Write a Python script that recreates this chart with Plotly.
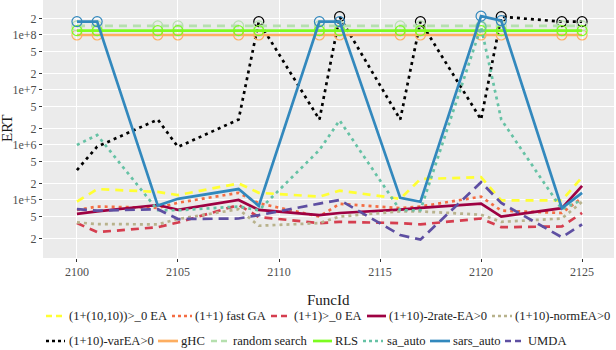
import plotly.graph_objects as go

# ERT per function id
func_ids = [2100, 2101, 2104, 2105, 2108, 2109, 2112, 2113, 2116, 2117, 2120, 2121, 2124, 2125]

ea_10_10 = [9.3e4, 1.58e5, 1.4e5, 1.23e5, 2.0e5, 1.35e5, 1.15e5, 1.48e5, 1.05e5, 2.4e5, 2.6e5, 9.8e4, 9.8e4, 2.6e5]
fast_ga = [6.6e4, 7.6e4, 7.2e4, 8.9e4, 1.35e5, 8.7e4, 5.0e4, 8.5e4, 7.1e4, 7.6e4, 1.15e5, 6.4e4, 5.8e4, 1.1e5]
ea_1_1 = [3.8e4, 2.6e4, 3.2e4, 3.9e4, 8.1e4, 4.9e4, 3.8e4, 4.0e4, 3.8e4, 3.6e4, 4.6e4, 3.2e4, 3.3e4, 5.8e4]
two_rate = [5.6e4, 6.2e4, 8.1e4, 6.6e4, 1.0e5, 6.6e4, 5.3e4, 5.8e4, 6.7e4, 7.2e4, 8.6e4, 5.0e4, 7.1e4, 1.8e5]
norm_ea = [3.9e4, 3.65e4, 3.6e4, 4.5e4, 6.8e4, 3.4e4, 3.8e4, 5.0e4, 6.2e4, 6.2e4, 5.4e4, 4.0e4, 4.6e4, 9.3e4]
var_ea = [3.5e5, 9.3e5, 2.9e6, 9.2e5, 2.9e6, 1.75e8, 2.9e6, 2.15e8, 2.9e6, 1.75e8, 2.9e6, 2.15e8, 1.75e8, 1.75e8]
ghc = [1.0e8, 1.0e8, 1.0e8, 1.0e8, 1.0e8, 1.0e8, 1.0e8, 1.0e8, 1.0e8, 1.0e8, 1.0e8, 1.0e8, 1.0e8, 1.0e8]
random_search = [1.46e8, 1.46e8, 1.46e8, 1.46e8, 1.46e8, 1.46e8, 1.46e8, 1.46e8, 1.46e8, 1.46e8, 1.46e8, 1.46e8, 1.46e8, 1.46e8]
rls = [1.2e8, 1.2e8, 1.2e8, 1.2e8, 1.2e8, 1.2e8, 1.2e8, 1.2e8, 1.2e8, 1.2e8, 1.2e8, 1.2e8, 1.2e8, 1.2e8]
sa_auto = [1.0e6, 1.52e6, 6.5e4, 6.5e4, 7.6e4, 6.5e4, 8.1e5, 2.8e6, 6.5e4, 6.5e4, 1.4e8, 2.9e6, 6.8e4, 1.0e5]
sars_auto = [1.75e8, 1.75e8, 7.9e4, 1.05e5, 1.58e5, 7.8e4, 1.75e8, 1.75e8, 1.09e5, 9.3e4, 2.2e8, 1.82e8, 7.1e4, 1.35e5]
umda = [6.8e4, 6.4e4, 6.8e4, 4.5e4, 4.6e4, 5.3e4, 8.6e4, 1.0e5, 2.3e4, 1.9e4, 2.1e5, 8.8e4, 2.1e4, 3.6e4]

x_ticks = [2100, 2105, 2110, 2115, 2120, 2125]
y_ticks = [2e8, 1e8, 5e7, 2e7, 1e7, 5e6, 2e6, 1e6, 5e5, 2e5, 1e5, 5e4, 2e4]
y_tick_labels = ["2", "1e+8", "5", "2", "1e+7", "5", "2", "1e+6", "5", "2", "1e+5", "5", "2"]

DOT = "3px,4px"
DASH = "8px,6px"
LONGDASH = "10px,6px"

series = [
    ("(1+(10,10))>_0 EA", ea_10_10, "#ffff33", DASH),
    ("(1+1) fast GA", fast_ga, "#f46d43", DOT),
    ("(1+1)>_0 EA", ea_1_1, "#d53e4f", DASH),
    ("(1+10)-2rate-EA>0", two_rate, "#9e0142", "solid"),
    ("(1+10)-normEA>0", norm_ea, "#b8b28c", DOT),
    ("(1+10)-varEA>0", var_ea, "#000000", DOT),
    ("gHC", ghc, "#fdae61", "solid"),
    ("random search", random_search, "#b5e0ae", DASH),
    ("RLS", rls, "#7cfc20", "solid"),
    ("sa_auto", sa_auto, "#66c2a5", DOT),
    ("sars_auto", sars_auto, "#3288bd", "solid"),
    ("UMDA", umda, "#5e4fa2", LONGDASH),
]

FONT = "Liberation Serif"
PLOT_L, PLOT_R, PLOT_B = 43, 614, 258  # panel bounds in pixels

fig = go.Figure()

for name, values, color, dash in series:
    fig.add_trace(go.Scatter(
        x=func_ids, y=values, mode="lines", name=name, showlegend=False,
        line=dict(color=color, width=2.7, dash=dash),
    ))
    # open circles mark the runs that never hit the target
    hx = [f for f, v in zip(func_ids, values) if v > 1e7]
    hy = [v for v in values if v > 1e7]
    if hx:
        fig.add_trace(go.Scatter(
            x=hx, y=hy, mode="markers", showlegend=False, hoverinfo="skip",
            marker=dict(symbol="circle-open", size=10, color=color, line=dict(width=1.2, color=color)),
        ))

# hand-placed legend: (key start px, key end px, text px, row y px)
legend_slots = [
    (46, 65, 68, 316), (172, 192, 194, 316), (271, 290, 293, 316), (367, 386, 388, 316), (492, 512, 514, 316),
    (46, 65, 68, 341), (158, 178, 180, 341), (211, 230, 232, 341), (313, 332, 334, 341),
    (363, 383, 386, 341), (430, 450, 452, 341), (505, 524, 527, 341),
]


def px_x(px):
    return (px - PLOT_L) / (PLOT_R - PLOT_L)


def px_y(py):
    return (PLOT_B - py) / PLOT_B


for (name, _, color, dash), (k0, k1, tx, ry) in zip(series, legend_slots):
    key_dash = "solid" if dash == "solid" else ("3px,3px" if dash == DOT else "6px,4px")
    fig.add_shape(type="line", xref="paper", yref="paper",
                  x0=px_x(k0), x1=px_x(k1), y0=px_y(ry), y1=px_y(ry),
                  line=dict(color=color, width=2.7, dash=key_dash))
    fig.add_annotation(text=name, xref="paper", yref="paper", x=px_x(tx - 1), y=px_y(ry),
                       xanchor="left", yanchor="middle", showarrow=False,
                       font=dict(family=FONT, size=12.6, color="#222222"))

fig.add_annotation(text="FuncId", xref="paper", yref="paper", x=0.5, y=px_y(300),
                   xanchor="center", yanchor="middle", showarrow=False,
                   font=dict(family=FONT, size=15, color="#1a1a1a"))
fig.add_annotation(text="ERT", xref="paper", yref="paper", x=px_x(7), y=0.5, textangle=-90,
                   xanchor="center", yanchor="middle", showarrow=False,
                   font=dict(family=FONT, size=15, color="#1a1a1a"))

fig.update_layout(
    width=616, height=350,
    margin=dict(l=PLOT_L, r=616 - PLOT_R, t=0, b=350 - PLOT_B, autoexpand=False),
    paper_bgcolor="white", plot_bgcolor="#ebebeb",
    showlegend=False,
    font=dict(family=FONT),
    xaxis=dict(
        range=[2098.32, 2126.58], tickvals=x_ticks, ticks="outside", ticklen=3,
        tickcolor="#333333", gridcolor="white", gridwidth=1, zeroline=False, showline=False,
        tickfont=dict(family=FONT, size=12, color="#4d4d4d"), automargin=False,
    ),
    yaxis=dict(
        type="log", range=[3.945, 8.636], tickvals=y_ticks, ticktext=y_tick_labels,
        ticks="outside", ticklen=3, tickcolor="#333333", gridcolor="white", gridwidth=1,
        zeroline=False, showline=False, automargin=False,
        tickfont=dict(family=FONT, size=12, color="#4d4d4d"),
    ),
)

# the page body has a default 8px margin; drop it so the figure sits at the window corner
fig.write_html(
    "out.html",
    config={"displayModeBar": False, "staticPlot": True},
    post_script="document.body.style.margin='0';document.body.style.overflow='hidden';",
)
